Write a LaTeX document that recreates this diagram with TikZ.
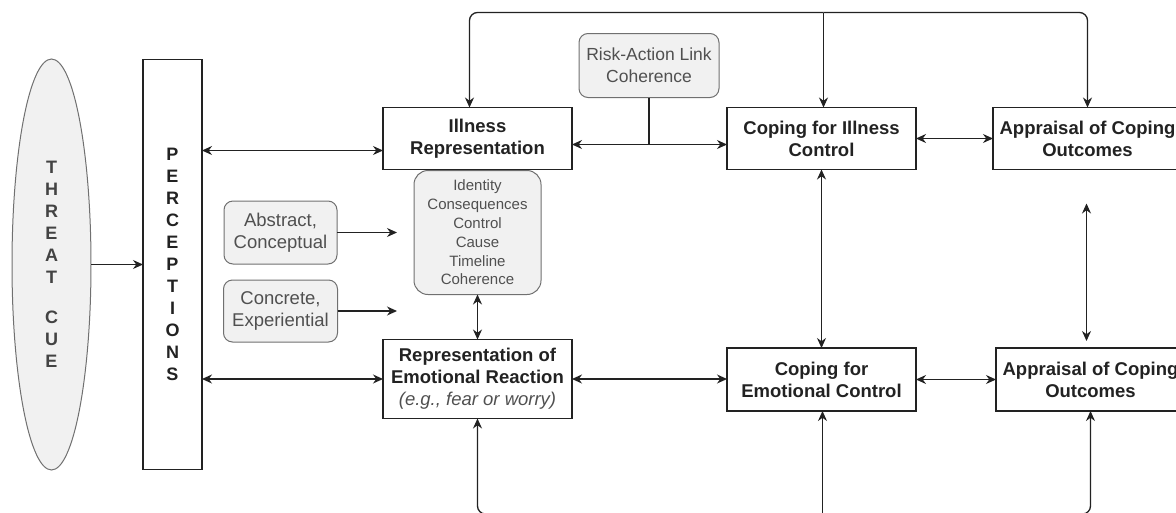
\documentclass[tikz,border=0pt]{standalone}
\usepackage{fontspec}
\setmainfont{Liberation Sans}
\usetikzlibrary{arrows.meta,positioning,shapes.geometric,calc}
\definecolor{softfill}{HTML}{F1F1F1}
\definecolor{softline}{HTML}{707070}
\definecolor{softtext}{HTML}{505050}
\definecolor{ink}{HTML}{222222}

\begin{document}
\begin{tikzpicture}[
  x=1pt,y=-1pt,
  box/.style={draw=ink,line width=1.2pt,outer sep=0pt,align=center,inner sep=0pt,minimum width=189pt,minimum height=62pt,text=ink,font=\bfseries\fontsize{18.5}{22}\selectfont},
  soft/.style={draw=softline,fill=softfill,line width=1pt,outer sep=0pt,rounded corners=9pt,align=center,inner sep=0pt,text=softtext,font=\fontsize{18.5}{22}\selectfont},
  cue/.style={ellipse,draw=softline,fill=softfill,line width=1pt,outer sep=0pt,inner sep=0pt,minimum width=79pt,minimum height=411pt,align=center,text=ink!85,font=\bfseries\fontsize{18}{22}\selectfont},
  bar/.style={draw=ink,line width=1.2pt,outer sep=0pt,inner sep=0pt,minimum width=59pt,minimum height=410pt,align=center,text=ink,font=\bfseries\fontsize{18}{22}\selectfont},
  link/.style={line width=1.3pt,draw=ink},
  arr/.style={-{Stealth[length=10pt,width=9pt]},line width=1.3pt,draw=ink},
  darr/.style={{Stealth[length=10pt,width=9pt]}-{Stealth[length=10pt,width=9pt]},line width=1.3pt,draw=ink}
]
\useasboundingbox (0,0) rectangle (1176,512);
\clip (0,0) rectangle (1176,512);
\node[cue] (threat) at (51.5,264.5) {T\\H\\R\\E\\A\\T\\[18pt]C\\U\\E};
\node[bar,right=52pt of threat] (perc) {P\\E\\R\\C\\E\\P\\T\\I\\O\\N\\S};
\node[box,right=181pt of perc,yshift=126pt] (illrep) {Illness\\Representation};
\node[soft,below=1pt of illrep,minimum width=127pt,minimum height=124pt,rounded corners=14pt,font=\fontsize{15}{18.8}\selectfont] (attr) {Identity\\Consequences\\Control\\Cause\\Timeline\\Coherence};
\node[box,right=181pt of perc,yshift=-114.5pt,minimum height=79pt] (emorep) {Representation of\\Emotional Reaction\\{\mdseries\itshape\color{softtext}(e.g., fear or worry)}};
\node[soft,left=77pt of attr,minimum width=113pt,minimum height=63pt] (abs) {Abstract,\\Conceptual};
\node[soft,below=16pt of abs,minimum width=114pt,minimum height=62pt] (conc) {Concrete,\\Experiential};
\node[soft,above right=10pt and 7pt of illrep,minimum width=140pt,minimum height=64pt,font=\fontsize{17.5}{22}\selectfont] (risk) {Risk-Action Link\\Coherence};
\node[box,right=155pt of illrep] (copI) {Coping for Illness\\Control};
\node[box,right=77pt of copI] (appI) {Appraisal of Coping\\Outcomes};
\node[box,right=155pt of emorep,yshift=-0.5pt,minimum height=63pt] (copE) {Coping for\\Emotional Control};
\node[box,right=80pt of copE,minimum height=63pt] (appE) {Appraisal of Coping\\Outcomes};
\coordinate (percin) at ($(illrep.west)+(0,12)$);
\coordinate (riskin) at ($(illrep.east)+(0,6)$);
\coordinate (apptop) at ($(appI.south)+(-1,0)$);
\coordinate (topjoin) at ($(copI.north)+(2,-95)$);
\coordinate (botjoin) at ($(copE.south)+(1,103)$);
\draw[arr] (threat) -- (perc);
\draw[darr] (perc.east |- percin) -- (percin);
\draw[darr] (perc.east |- emorep.west) -- (emorep.west);
\draw[arr,shorten >=17pt] (abs.east) -- (abs.east -| attr.west);
\draw[arr,shorten >=17pt] (conc.east) -- (conc.east -| attr.west);
\draw[darr] (attr) -- (emorep);
\draw[darr] (riskin) -- (riskin -| copI.west);
\draw[link] (risk) -- (risk |- riskin);
\draw[darr] (copI) -- (appI);
\draw[darr] (emorep.east) -- (emorep.east -| copE.west);
\draw[darr] (copE) -- (appE);
\draw[darr] (copI) -- (copE);
\draw[darr,shorten <=34pt,shorten >=7pt] (apptop) -- (apptop |- appE.north);
\draw[arr,rounded corners=8pt] (topjoin) -| ($(illrep.north)+(-8,0)$);
\draw[arr,rounded corners=8pt] (topjoin) -| (appI.north);
\draw[arr] (topjoin) -- (topjoin |- copI.north);
\draw[arr,rounded corners=8pt] (botjoin) -| (emorep.south);
\draw[arr,rounded corners=8pt] (botjoin) -| (appE.south);
\draw[arr] (botjoin) -- (botjoin |- copE.south);
\end{tikzpicture}
\end{document}
